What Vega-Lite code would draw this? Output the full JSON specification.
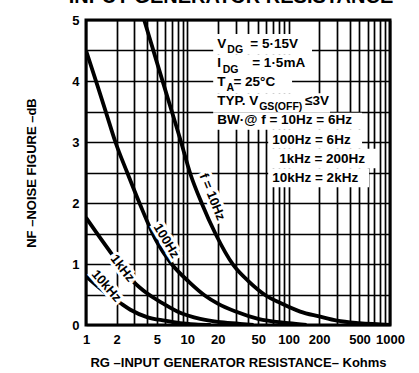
{
  "$schema": "https://vega.github.io/schema/vega-lite/v6.json",
  "width": 304,
  "height": 305,
  "autosize": {"type": "none"},
  "padding": {"left": 86, "top": 20, "right": 29, "bottom": 48},
  "background": "white",
  "title": {"text": "INPUT GENERATOR RESISTANCE", "anchor": "middle", "orient": "top", "offset": 0, "baseline": "bottom", "dx": -7, "dy": 13, "fontSize": 20, "font": "Liberation Sans", "fontWeight": "bold", "color": "black"},
  "config": {
    "view": {"stroke": "black", "strokeWidth": 3},
    "axis": {"gridColor": "black", "gridWidth": 1.7, "gridOpacity": 1, "ticks": false, "domain": false, "labelFont": "Liberation Sans", "labelFontWeight": "bold", "labelFontSize": 13, "labelColor": "black", "labelOverlap": false, "labelBound": false, "labelFlush": false, "titleFont": "Liberation Sans", "titleFontWeight": "bold", "titleFontSize": 13, "titleColor": "black"}
  },
  "datasets": {
    "curves": [
      {"f": "10Hz", "R": 3.75, "NF": 5.0}, {"f": "10Hz", "R": 4.2, "NF": 4.73}, {"f": "10Hz", "R": 5, "NF": 4.31}, {"f": "10Hz", "R": 7, "NF": 3.51}, {"f": "10Hz", "R": 8.5, "NF": 3.05}, {"f": "10Hz", "R": 10.7, "NF": 2.48}, {"f": "10Hz", "R": 14, "NF": 1.98}, {"f": "10Hz", "R": 18.9, "NF": 1.5}, {"f": "10Hz", "R": 28.5, "NF": 0.98}, {"f": "10Hz", "R": 40, "NF": 0.72}, {"f": "10Hz", "R": 60, "NF": 0.48}, {"f": "10Hz", "R": 83, "NF": 0.36}, {"f": "10Hz", "R": 130, "NF": 0.22}, {"f": "10Hz", "R": 200, "NF": 0.14}, {"f": "10Hz", "R": 300, "NF": 0.07}, {"f": "10Hz", "R": 500, "NF": 0.03}, {"f": "10Hz", "R": 800, "NF": 0.01}, {"f": "10Hz", "R": 1000, "NF": 0.0},
      {"f": "100Hz", "R": 1, "NF": 4.5}, {"f": "100Hz", "R": 1.3, "NF": 3.92}, {"f": "100Hz", "R": 1.6, "NF": 3.45}, {"f": "100Hz", "R": 1.95, "NF": 3.0}, {"f": "100Hz", "R": 2.55, "NF": 2.5}, {"f": "100Hz", "R": 3.37, "NF": 2.0}, {"f": "100Hz", "R": 4.9, "NF": 1.39}, {"f": "100Hz", "R": 7, "NF": 1.0}, {"f": "100Hz", "R": 10.5, "NF": 0.7}, {"f": "100Hz", "R": 15, "NF": 0.48}, {"f": "100Hz", "R": 20, "NF": 0.35}, {"f": "100Hz", "R": 30, "NF": 0.22}, {"f": "100Hz", "R": 50, "NF": 0.1}, {"f": "100Hz", "R": 100, "NF": 0.03}, {"f": "100Hz", "R": 150, "NF": 0.0},
      {"f": "1kHz", "R": 1, "NF": 1.76}, {"f": "1kHz", "R": 1.77, "NF": 1.18}, {"f": "1kHz", "R": 2.9, "NF": 0.72}, {"f": "1kHz", "R": 4, "NF": 0.52}, {"f": "1kHz", "R": 5.8, "NF": 0.35}, {"f": "1kHz", "R": 8.5, "NF": 0.2}, {"f": "1kHz", "R": 13.4, "NF": 0.1}, {"f": "1kHz", "R": 20, "NF": 0.05}, {"f": "1kHz", "R": 33, "NF": 0.02}, {"f": "1kHz", "R": 45, "NF": 0.0},
      {"f": "10kHz", "R": 1, "NF": 0.8}, {"f": "10kHz", "R": 1.5, "NF": 0.55}, {"f": "10kHz", "R": 2.18, "NF": 0.36}, {"f": "10kHz", "R": 2.74, "NF": 0.25}, {"f": "10kHz", "R": 4, "NF": 0.13}, {"f": "10kHz", "R": 6, "NF": 0.07}, {"f": "10kHz", "R": 8.5, "NF": 0.03}, {"f": "10kHz", "R": 12, "NF": 0.01}, {"f": "10kHz", "R": 17, "NF": 0.0}
    ],
    "curveLabels": [
      {"t": "f = 10Hz", "R": 17.6, "NF": 2.1, "angle": 68},
      {"t": "100Hz", "R": 6.21, "NF": 1.38, "angle": 59},
      {"t": "1kHz", "R": 2.29, "NF": 0.93, "angle": 52},
      {"t": "10kHz", "R": 1.59, "NF": 0.64, "angle": 49}
    ],
    "boxes": [
      {"x": 18, "x2": 170, "y": 4.77, "y2": 4.43},
      {"x": 18, "x2": 178, "y": 4.43, "y2": 4.1},
      {"x": 18, "x2": 108, "y": 4.1, "y2": 3.8},
      {"x": 18, "x2": 256, "y": 3.8, "y2": 3.48},
      {"x": 18, "x2": 530, "y": 3.48, "y2": 3.2},
      {"x": 62.8, "x2": 530, "y": 3.2, "y2": 2.89},
      {"x": 62.8, "x2": 762, "y": 2.89, "y2": 2.57},
      {"x": 62.8, "x2": 621, "y": 2.57, "y2": 2.26}
    ],
    "notes": [
      {"t": "V", "R": 19.75, "NF": 4.54},
      {"t": "= 5·15V", "R": 41.8, "NF": 4.54},
      {"t": "I", "R": 19.75, "NF": 4.23},
      {"t": "= 1·5mA", "R": 43.7, "NF": 4.23},
      {"t": "T", "R": 19.75, "NF": 3.92},
      {"t": "= 25°C", "R": 28.5, "NF": 3.92},
      {"t": "TYP. V", "R": 19.75, "NF": 3.61},
      {"t": "≤3V", "R": 145, "NF": 3.61},
      {"t": "BW·@ f = 10Hz = 6Hz", "R": 19.75, "NF": 3.3},
      {"t": "100Hz = 6Hz", "R": 68.8, "NF": 2.97},
      {"t": "1kHz = 200Hz", "R": 80.6, "NF": 2.66},
      {"t": "10kHz = 2kHz", "R": 68.8, "NF": 2.34}
    ],
    "subs": [
      {"t": "DG", "R": 24.8, "NF": 4.46},
      {"t": "DG", "R": 22.3, "NF": 4.13},
      {"t": "A", "R": 24.3, "NF": 3.84},
      {"t": "GS(OFF)", "R": 51.2, "NF": 3.52}
    ]
  },
  "encoding": {
    "x": {"field": "R", "type": "quantitative", "scale": {"type": "log", "domain": [1, 1000], "nice": false},
      "axis": {"values": [1,2,3,4,5,6,7,8,9,10,20,30,40,50,60,70,80,90,100,200,300,400,500,600,700,800,900,1000], "grid": true, "labelPadding": 8, "labelExpr": "indexof([1,2,5,10,20,50,100,200,500,1000], datum.value) >= 0 ? format(datum.value, 'd') : ''", "title": "RG –INPUT GENERATOR RESISTANCE– Kohms", "titlePadding": 10}},
    "y": {"field": "NF", "type": "quantitative", "scale": {"domain": [0, 5], "nice": false},
      "axis": {"values": [0,0.5,1,1.5,2,2.5,3,3.5,4,4.5,5], "grid": true, "labelPadding": 7, "labelExpr": "datum.value % 1 === 0 ? format(datum.value, 'd') : ''", "title": "NF –NOISE FIGURE –dB", "titlePadding": 33}}
  },
  "layer": [
    {"data": {"name": "boxes"}, "mark": {"type": "rect", "fill": "white"},
      "encoding": {"x": {"field": "x", "type": "quantitative"}, "x2": {"field": "x2"}, "y": {"field": "y", "type": "quantitative"}, "y2": {"field": "y2"}}},
    {"data": {"name": "curves"}, "mark": {"type": "line", "color": "black", "strokeWidth": 3.8, "interpolate": "monotone", "clip": true},
      "encoding": {"detail": {"field": "f"}}},
    {"data": {"name": "curveLabels"}, "mark": {"type": "text", "font": "Liberation Sans", "fontWeight": "bold", "fontSize": 13, "stroke": "white", "strokeWidth": 6, "fill": "white", "align": "center", "baseline": "middle"},
      "encoding": {"text": {"field": "t"}, "angle": {"field": "angle", "type": "quantitative", "scale": null}}},
    {"data": {"name": "curveLabels"}, "mark": {"type": "text", "font": "Liberation Sans", "fontWeight": "bold", "fontSize": 13, "color": "black", "align": "center", "baseline": "middle"},
      "encoding": {"text": {"field": "t"}, "angle": {"field": "angle", "type": "quantitative", "scale": null}}},
    {"data": {"name": "notes"}, "mark": {"type": "text", "font": "Liberation Sans", "fontWeight": "bold", "fontSize": 13.5, "color": "black", "align": "left", "baseline": "alphabetic"},
      "encoding": {"text": {"field": "t"}}},
    {"data": {"name": "subs"}, "mark": {"type": "text", "font": "Liberation Sans", "fontWeight": "bold", "fontSize": 10.5, "color": "black", "align": "left", "baseline": "alphabetic"},
      "encoding": {"text": {"field": "t"}}}
  ]
}
